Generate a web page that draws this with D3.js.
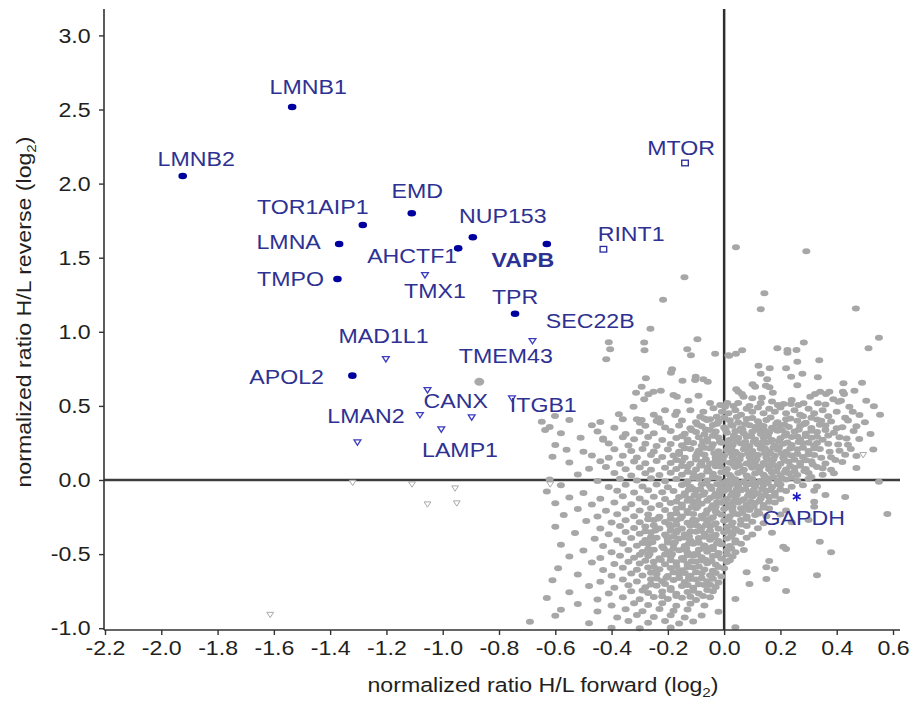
<!DOCTYPE html>
<html>
<head>
<meta charset="utf-8">
<script src="https://cdn.jsdelivr.net/npm/d3@7"></script>
<style>
body { margin: 0; background: #fff; }
text { font-family: "Liberation Sans", Arial, sans-serif; }
</style>
</head>
<body>
<svg id="chart" width="914" height="704"></svg>
<script>
// ticks
var xTickValues = [-2.2, -2.0, -1.8, -1.6, -1.4, -1.2, -1.0, -0.8, -0.6, -0.4, -0.2, 0.0, 0.2, 0.4, 0.6];
var yTickValues = [-1.0, -0.5, 0.0, 0.5, 1.0, 1.5, 2.0, 2.5, 3.0];

// highlighted proteins (forward, reverse log2 ratios)
var proteinNames  = ["LMNB1", "LMNB2", "TOR1AIP1", "EMD", "NUP153", "LMNA", "AHCTF1", "VAPB", "TMPO", "TMX1", "TPR", "SEC22B", "RINT1", "MTOR", "MAD1L1", "APOL2", "TMEM43", "CANX", "ITGB1", "LMAN2", "LAMP1", "", "", "GAPDH"];
var proteinFwd    = [-1.535, -1.924, -1.284, -1.110, -0.893, -1.368, -0.945, -0.630, -1.374, -1.063, -0.743, -0.681, -0.429, -0.139, -1.202, -1.321, -0.870, -1.054, -0.754, -1.081, -1.005, -0.897, -1.303, 0.258];
var proteinRev    = [2.517, 2.051, 1.721, 1.800, 1.638, 1.592, 1.563, 1.592, 1.356, 1.383, 1.122, 0.938, 1.557, 2.139, 0.816, 0.704, 0.663, 0.607, 0.551, 0.439, 0.342, 0.423, 0.254, -0.113];
var proteinMarker = ["dot", "dot", "dot", "dot", "dot", "dot", "dot", "dot", "dot", "tri", "dot", "tri", "square", "square", "tri", "dot", "grey", "tri", "tri", "tri", "tri", "tri", "tri", "star"];

// hollow grey triangles
var greyTriangles = [[-1.320, -0.018], [-1.109, -0.029], [-0.956, -0.056], [-1.054, -0.164], [-0.950, -0.157], [-0.618, -0.029], [-1.613, -0.909], [0.494, 0.169]];

// all other quantified proteins
var greyPoints = [
  [0.042,1.570],[0.292,1.543],[0.143,1.260],[0.130,1.152],[0.468,1.158],[-0.141,1.368],[-0.217,1.217],[-0.262,1.021],
  [-0.410,0.929],[-0.405,0.882],[-0.419,0.814],[-0.284,0.927],[-0.283,0.875],[-0.095,0.949],[-0.131,0.882],[-0.118,0.841],[-0.032,0.852],[0.015,0.841],[0.550,0.960],[0.513,0.889],[0.283,0.927],[0.189,0.889],[0.225,0.877],[0.225,0.859],[0.257,0.877],[0.018,0.839],[0.042,0.852],[0.064,0.875],[0.338,0.808],[0.260,0.798],
  [-0.185,0.747],[-0.189,0.724],[-0.278,0.686],[-0.148,0.670],[-0.101,0.697],[-0.103,0.675],[-0.074,0.679],[-0.058,0.663],[-0.293,0.630],[0.122,0.771],[0.162,0.754],[0.220,0.754],[0.130,0.717],[0.238,0.697],[0.278,0.717],[0.333,0.693],[0.153,0.679],[0.260,0.639],[0.101,0.646],[0.110,0.630],[0.148,0.636],[0.161,0.626],[0.043,0.612],[0.490,0.657],[0.424,0.652],[-0.225,0.603],[-0.251,0.596],[-0.313,0.589],[-0.269,0.578],
  [-0.648,0.393],[-0.601,0.432],[-0.636,0.337],[-0.374,0.443],[-0.322,0.495],[-0.284,0.545],[-0.180,0.574],[-0.168,0.562],[-0.091,0.569],[-0.127,0.535],[-0.168,0.461],[-0.174,0.439],[-0.233,0.416],[-0.227,0.387],[-0.299,0.387],[-0.293,0.405],[-0.074,0.461],[-0.085,0.427],[-0.061,0.405],[-0.038,0.484],[-0.014,0.506],[-0.008,0.461],[-0.026,0.427],[0.051,0.596],[0.063,0.580],[0.069,0.562],[0.173,0.589],[0.422,0.596],[0.426,0.580],[0.463,0.603],[0.505,0.535],[0.532,0.497],[0.554,0.441],[0.306,0.562],[0.323,0.580],[0.341,0.596],[0.362,0.580],[0.374,0.596],[0.388,0.545],[0.406,0.528],[0.415,0.535],[0.333,0.518],[0.282,0.518],[0.264,0.506],[0.237,0.513],[0.211,0.513],[0.191,0.506],[0.445,0.495],[0.457,0.461],[0.481,0.439],[0.100,0.551],[0.134,0.555],[0.011,0.520],[0.033,0.500],[0.003,0.495],
  [0.015,0.45],[0.04,0.47],[0.06,0.44],[0.08,0.48],[0.10,0.46],[0.12,0.49],[0.14,0.45],[0.16,0.48],[0.18,0.46],[0.20,0.49],[0.22,0.45],[0.25,0.47],[0.27,0.44],[0.30,0.48],[0.32,0.45],[0.35,0.47],[0.37,0.43],[0.40,0.46],[0.43,0.42],[0.05,0.52],[0.09,0.50],[0.13,0.52],[0.17,0.53],[0.24,0.54],[0.36,0.51],[-0.05,0.52],[-0.12,0.47],[-0.21,0.47],[-0.25,0.44],[-0.36,0.41],[-0.43,0.28],
  [-0.55,0.405],[-0.44,0.392],[-0.31,0.41],[-0.24,0.398],[-0.15,0.402],[-0.10,0.389],[-0.05,0.41],[-0.02,0.395],[0.02,0.404],[0.05,0.388],[0.08,0.412],[0.12,0.397],[0.15,0.405],[0.19,0.39],[0.22,0.41],[0.26,0.4],[0.29,0.387],[0.33,0.408],[0.38,0.395],[0.44,0.402],[0.50,0.39],
  [-0.62,0.358],[-0.47,0.37],[-0.39,0.352],[-0.28,0.366],[-0.21,0.355],[-0.16,0.368],[-0.12,0.35],[-0.08,0.362],[-0.04,0.371],[0.0,0.355],[0.03,0.366],[0.06,0.35],[0.09,0.369],[0.11,0.357],[0.14,0.364],[0.17,0.352],[0.20,0.37],[0.23,0.358],[0.27,0.365],[0.31,0.351],[0.36,0.368],[0.42,0.356],[0.47,0.362],
  [-0.58,0.316],[-0.45,0.328],[-0.35,0.31],[-0.30,0.325],[-0.25,0.315],[-0.19,0.33],[-0.14,0.312],[-0.10,0.324],[-0.07,0.309],[-0.03,0.327],[0.01,0.318],[0.04,0.331],[0.07,0.313],[0.10,0.326],[0.13,0.31],[0.16,0.322],[0.19,0.333],[0.22,0.315],[0.25,0.327],[0.29,0.312],[0.33,0.324],[0.39,0.318],[0.46,0.33],[0.52,0.31],
  [-0.51,0.285],[-0.43,0.272],[-0.36,0.288],[-0.32,0.275],[-0.27,0.29],[-0.22,0.27],[-0.17,0.284],[-0.13,0.273],[-0.09,0.289],[-0.06,0.276],[-0.02,0.286],[0.02,0.271],[0.05,0.283],[0.08,0.292],[0.11,0.274],[0.14,0.287],[0.17,0.27],[0.20,0.281],[0.24,0.29],[0.27,0.274],[0.31,0.285],[0.35,0.272],[0.41,0.288],[0.48,0.277],
  [-0.60,0.236],[-0.41,0.247],[-0.34,0.232],[-0.28,0.245],[-0.24,0.23],[-0.19,0.243],[-0.15,0.235],[-0.11,0.249],[-0.08,0.231],[-0.04,0.242],[-0.01,0.252],[0.03,0.234],[0.06,0.246],[0.09,0.23],[0.12,0.241],[0.15,0.251],[0.18,0.233],[0.21,0.245],[0.24,0.236],[0.28,0.248],[0.32,0.231],[0.37,0.244],[0.44,0.238],
  [-0.56,0.204],[-0.50,0.19],[-0.39,0.207],[-0.33,0.195],[-0.29,0.21],[-0.25,0.193],[-0.20,0.205],[-0.16,0.19],[-0.12,0.209],[-0.09,0.197],[-0.05,0.212],[-0.02,0.194],[0.01,0.203],[0.04,0.19],[0.07,0.208],[0.10,0.196],[0.13,0.211],[0.16,0.193],[0.19,0.204],[0.22,0.191],[0.26,0.207],[0.30,0.195],[0.34,0.21],[0.41,0.198],[0.53,0.205],
  [-0.61,0.157],[-0.47,0.165],[-0.41,0.15],[-0.36,0.163],[-0.31,0.152],[-0.26,0.168],[-0.22,0.155],[-0.18,0.166],[-0.14,0.15],[-0.10,0.161],[-0.07,0.17],[-0.03,0.153],[0.0,0.164],[0.03,0.151],[0.06,0.167],[0.09,0.156],[0.12,0.169],[0.15,0.152],[0.18,0.163],[0.21,0.15],[0.24,0.166],[0.28,0.155],[0.32,0.168],[0.38,0.153],[0.47,0.162],
  [-0.55,0.118],[-0.44,0.126],[-0.37,0.11],[-0.32,0.124],[-0.28,0.113],[-0.24,0.128],[-0.19,0.115],[-0.15,0.127],[-0.12,0.109],[-0.08,0.122],[-0.05,0.112],[-0.01,0.129],[0.02,0.117],[0.05,0.13],[0.08,0.111],[0.11,0.125],[0.14,0.114],[0.17,0.128],[0.20,0.11],[0.23,0.123],[0.27,0.116],[0.31,0.127],[0.36,0.112],[0.42,0.121],
  [-0.48,0.076],[-0.42,0.088],[-0.35,0.072],[-0.30,0.085],[-0.26,0.07],[-0.21,0.083],[-0.17,0.074],[-0.13,0.089],[-0.10,0.071],[-0.06,0.084],[-0.03,0.092],[0.01,0.075],[0.04,0.087],[0.07,0.07],[0.10,0.082],[0.13,0.091],[0.16,0.073],[0.19,0.086],[0.22,0.071],[0.25,0.083],[0.29,0.074],[0.33,0.088],[0.38,0.07],[0.47,0.081],
  [-0.52,0.037],[-0.39,0.048],[-0.33,0.031],[-0.28,0.045],[-0.23,0.033],[-0.19,0.049],[-0.15,0.035],[-0.11,0.046],[-0.08,0.03],[-0.04,0.043],[-0.01,0.052],[0.02,0.034],[0.05,0.047],[0.08,0.031],[0.11,0.044],[0.14,0.036],[0.17,0.05],[0.20,0.032],[0.23,0.045],[0.26,0.034],[0.30,0.048],[0.35,0.036],[0.39,0.046],
  [-0.62,0.004],[-0.45,-0.006],[-0.37,0.008],[-0.31,-0.004],[-0.26,0.011],[-0.21,-0.008],[-0.17,0.006],[-0.13,-0.01],[-0.09,0.009],[-0.06,-0.003],[-0.02,0.012],[0.01,-0.007],[0.04,0.005],[0.07,-0.011],[0.10,0.007],[0.13,-0.005],[0.16,0.01],[0.19,-0.009],[0.22,0.004],[0.26,-0.006],[0.30,0.008],[0.55,-0.011],
  [-0.58,-0.036],[-0.41,-0.047],[-0.35,-0.032],[-0.29,-0.044],[-0.24,-0.03],[-0.20,-0.049],[-0.15,-0.034],[-0.12,-0.046],[-0.08,-0.031],[-0.05,-0.043],[-0.01,-0.051],[0.02,-0.035],[0.05,-0.047],[0.08,-0.03],[0.11,-0.042],[0.14,-0.033],[0.17,-0.048],[0.20,-0.031],[0.24,-0.045],[0.28,-0.036],[0.33,-0.044],
  [-0.63,-0.077],[-0.50,-0.088],[-0.38,-0.072],[-0.32,-0.085],[-0.27,-0.07],[-0.22,-0.083],[-0.18,-0.074],[-0.14,-0.089],[-0.10,-0.071],[-0.07,-0.084],[-0.03,-0.092],[0.0,-0.075],[0.03,-0.087],[0.06,-0.07],[0.09,-0.082],[0.12,-0.091],[0.15,-0.073],[0.18,-0.086],[0.22,-0.075],[0.32,-0.072],[0.36,-0.101],
  [-0.55,-0.118],[-0.44,-0.127],[-0.36,-0.11],[-0.30,-0.124],[-0.25,-0.113],[-0.21,-0.128],[-0.16,-0.115],[-0.12,-0.127],[-0.09,-0.109],[-0.05,-0.122],[-0.02,-0.112],[0.01,-0.129],[0.04,-0.117],[0.07,-0.13],[0.10,-0.111],[0.13,-0.125],[0.16,-0.114],[0.20,-0.128],[0.43,-0.115],
  [-0.60,-0.157],[-0.47,-0.166],[-0.39,-0.151],[-0.33,-0.163],[-0.28,-0.152],[-0.23,-0.168],[-0.19,-0.155],[-0.15,-0.166],[-0.11,-0.15],[-0.08,-0.161],[-0.04,-0.17],[-0.01,-0.153],[0.02,-0.164],[0.05,-0.151],[0.08,-0.167],[0.11,-0.156],[0.14,-0.169],[0.18,-0.152],[0.32,-0.146],
  [-0.52,-0.196],[-0.42,-0.207],[-0.35,-0.192],[-0.30,-0.205],[-0.26,-0.19],[-0.21,-0.203],[-0.17,-0.194],[-0.13,-0.209],[-0.10,-0.191],[-0.06,-0.204],[-0.03,-0.212],[0.0,-0.195],[0.03,-0.207],[0.06,-0.19],[0.09,-0.202],[0.12,-0.211],[0.16,-0.193],[0.22,-0.206],[0.58,-0.229],[0.32,-0.18],
  [-0.57,-0.237],[-0.45,-0.246],[-0.38,-0.231],[-0.32,-0.244],[-0.27,-0.232],[-0.23,-0.248],[-0.19,-0.235],[-0.15,-0.246],[-0.11,-0.23],[-0.08,-0.242],[-0.04,-0.251],[-0.01,-0.234],[0.02,-0.245],[0.05,-0.231],[0.08,-0.247],[0.11,-0.236],[0.15,-0.244],[0.20,-0.232],
  [-0.49,-0.276],[-0.40,-0.287],[-0.35,-0.272],[-0.30,-0.285],[-0.25,-0.27],[-0.21,-0.283],[-0.17,-0.274],[-0.13,-0.289],[-0.10,-0.271],[-0.06,-0.284],[-0.03,-0.292],[0.0,-0.275],[0.03,-0.287],[0.06,-0.27],[0.10,-0.282],[0.14,-0.291],[0.30,-0.27],[0.24,-0.285],
  [-0.60,-0.316],[-0.44,-0.327],[-0.37,-0.311],[-0.32,-0.324],[-0.28,-0.313],[-0.23,-0.328],[-0.19,-0.315],[-0.15,-0.327],[-0.12,-0.309],[-0.08,-0.322],[-0.05,-0.312],[-0.02,-0.329],[0.01,-0.317],[0.04,-0.33],[0.08,-0.311],[0.12,-0.325],
  [-0.53,-0.357],[-0.41,-0.366],[-0.35,-0.351],[-0.30,-0.363],[-0.26,-0.352],[-0.21,-0.368],[-0.17,-0.355],[-0.14,-0.366],[-0.10,-0.35],[-0.07,-0.361],[-0.03,-0.37],[0.0,-0.353],[0.03,-0.364],[0.06,-0.351],[0.10,-0.367],[0.17,-0.356],
  [-0.46,-0.396],[-0.38,-0.407],[-0.33,-0.392],[-0.28,-0.405],[-0.24,-0.39],[-0.20,-0.403],[-0.16,-0.394],[-0.12,-0.409],[-0.09,-0.391],[-0.05,-0.404],[-0.02,-0.412],[0.01,-0.395],[0.04,-0.407],[0.08,-0.39],[0.21,-0.45],[0.34,-0.416],
  [-0.58,-0.437],[-0.43,-0.446],[-0.36,-0.431],[-0.31,-0.444],[-0.27,-0.432],[-0.22,-0.448],[-0.18,-0.435],[-0.14,-0.446],[-0.11,-0.43],[-0.07,-0.442],[-0.04,-0.451],[-0.01,-0.434],[0.02,-0.445],[0.06,-0.431],[0.22,-0.466],
  [-0.50,-0.476],[-0.40,-0.487],[-0.34,-0.472],[-0.29,-0.485],[-0.25,-0.47],[-0.20,-0.483],[-0.16,-0.474],[-0.13,-0.489],[-0.09,-0.471],[-0.06,-0.484],[-0.02,-0.492],[0.01,-0.475],[0.04,-0.487],[0.07,-0.472],[0.38,-0.488],
  [-0.55,-0.516],[-0.44,-0.527],[-0.37,-0.511],[-0.32,-0.524],[-0.27,-0.513],[-0.23,-0.528],[-0.19,-0.515],[-0.15,-0.527],[-0.11,-0.509],[-0.08,-0.522],[-0.04,-0.512],[-0.01,-0.529],[0.03,-0.517],
  [-0.47,-0.557],[-0.39,-0.566],[-0.34,-0.551],[-0.30,-0.563],[-0.25,-0.552],[-0.21,-0.568],[-0.17,-0.555],[-0.13,-0.566],[-0.10,-0.55],[-0.06,-0.561],[-0.03,-0.57],[0.01,-0.553],[0.16,-0.547],
  [-0.59,-0.596],[-0.43,-0.607],[-0.36,-0.592],[-0.31,-0.605],[-0.27,-0.59],[-0.23,-0.603],[-0.19,-0.594],[-0.15,-0.609],[-0.11,-0.591],[-0.07,-0.604],[-0.04,-0.612],[0.0,-0.595],[0.08,-0.623],[0.18,-0.601],[0.15,-0.589],
  [-0.52,-0.637],[-0.40,-0.646],[-0.33,-0.631],[-0.29,-0.644],[-0.24,-0.632],[-0.20,-0.648],[-0.16,-0.635],[-0.12,-0.646],[-0.08,-0.63],[-0.05,-0.642],[-0.01,-0.651],[0.15,-0.668],[0.33,-0.643],
  [-0.61,-0.676],[-0.44,-0.687],[-0.36,-0.672],[-0.31,-0.685],[-0.26,-0.67],[-0.22,-0.683],[-0.18,-0.674],[-0.14,-0.689],[-0.10,-0.671],[-0.06,-0.684],[-0.02,-0.692],[0.09,-0.702],
  [-0.48,-0.716],[-0.39,-0.727],[-0.34,-0.711],[-0.28,-0.724],[-0.24,-0.713],[-0.19,-0.728],[-0.15,-0.715],[-0.11,-0.727],[-0.07,-0.709],[-0.03,-0.722],
  [-0.55,-0.757],[-0.41,-0.766],[-0.33,-0.751],[-0.27,-0.763],[-0.22,-0.752],[-0.17,-0.768],[-0.13,-0.755],[-0.09,-0.766],[-0.04,-0.75],[0.22,-0.749],
  [-0.63,-0.796],[-0.45,-0.807],[-0.36,-0.792],[-0.30,-0.805],[-0.25,-0.79],[-0.20,-0.803],[-0.15,-0.794],[-0.10,-0.809],[-0.05,-0.791],[0.04,-0.803],
  [-0.52,-0.837],[-0.40,-0.846],[-0.32,-0.831],[-0.27,-0.844],[-0.22,-0.832],[-0.17,-0.848],[-0.12,-0.835],[-0.07,-0.846],
  [-0.58,-0.876],[-0.45,-0.887],[-0.35,-0.872],[-0.29,-0.885],[-0.23,-0.87],[-0.18,-0.883],[-0.13,-0.874],[-0.02,-0.889],
  [-0.60,-0.916],[-0.38,-0.927],[-0.31,-0.911],[-0.25,-0.924],[-0.19,-0.913],[-0.14,-0.928],[-0.08,-0.915],
  [-0.69,-0.957],[-0.48,-0.966],[-0.34,-0.951],[-0.27,-0.963],[-0.21,-0.952],[-0.16,-0.968],[-0.11,-0.955],[0.04,-0.994],
  [-0.40,-0.997],[-0.30,-1.0],[-0.19,-0.995],
  [-0.065,0.34],[-0.035,0.30],[0.005,0.34],[0.035,0.30],[0.065,0.34],[0.095,0.30],[0.125,0.34],[0.155,0.30],[0.185,0.34],
  [-0.075,0.26],[-0.045,0.22],[-0.015,0.26],[0.015,0.22],[0.045,0.26],[0.075,0.22],[0.105,0.26],[0.135,0.22],[0.165,0.26],[0.195,0.22],
  [-0.095,0.18],[-0.065,0.14],[-0.035,0.18],[-0.005,0.14],[0.025,0.18],[0.055,0.14],[0.085,0.18],[0.115,0.14],[0.145,0.18],[0.175,0.14],[0.205,0.18],
  [-0.085,0.10],[-0.055,0.06],[-0.025,0.10],[0.005,0.06],[0.035,0.10],[0.065,0.06],[0.095,0.10],[0.125,0.06],[0.155,0.10],[0.185,0.06],
  [-0.095,0.02],[-0.065,-0.02],[-0.035,0.02],[-0.005,-0.02],[0.025,0.02],[0.055,-0.02],[0.085,0.02],[0.115,-0.02],[0.145,0.02],
  [-0.11,-0.06],[-0.075,-0.10],[-0.045,-0.06],[-0.015,-0.10],[0.015,-0.06],[0.045,-0.10],[0.075,-0.06],[0.105,-0.10],
  [-0.13,-0.14],[-0.095,-0.18],[-0.06,-0.14],[-0.03,-0.18],[0.0,-0.14],[0.03,-0.18],[0.06,-0.14],
  [-0.235,-0.26],[-0.195,-0.30],[-0.155,-0.26],[-0.115,-0.30],[-0.075,-0.26],[-0.035,-0.30],
  [-0.245,-0.34],[-0.205,-0.38],[-0.165,-0.34],[-0.125,-0.38],[-0.085,-0.34],[-0.045,-0.38],
  [-0.255,-0.42],[-0.215,-0.46],[-0.175,-0.42],[-0.135,-0.46],[-0.095,-0.42],[-0.055,-0.46],
  [-0.265,-0.50],[-0.225,-0.54],[-0.185,-0.50],[-0.145,-0.54],[-0.105,-0.50],[-0.065,-0.54],
  [-0.245,-0.62],[-0.205,-0.66],[-0.165,-0.62],[-0.125,-0.66],
  [-0.07,0.415],[0.0,0.42],[0.045,0.425],[0.10,0.418],[0.165,0.422],[0.235,0.415],[0.31,0.42],
  [-0.095,0.375],[-0.025,0.38],[0.025,0.372],[0.075,0.378],[0.125,0.374],[0.185,0.38],[0.215,0.373],[0.285,0.378],[0.34,0.372],
  [-0.115,0.335],[-0.05,0.338],[0.055,0.333],[0.115,0.339],[0.145,0.332],[0.205,0.336],[0.265,0.339],[0.31,0.333],[0.36,0.337],
  [-0.15,0.295],[-0.04,0.298],[0.035,0.292],[0.095,0.297],[0.155,0.293],[0.215,0.299],[0.26,0.293],[0.29,0.297],[0.33,0.291],
  [-0.13,0.255],[-0.06,0.258],[0.015,0.252],[0.075,0.257],[0.135,0.253],[0.195,0.259],[0.225,0.253],[0.265,0.257],[0.30,0.252],
  [-0.14,0.215],[-0.07,0.218],[0.025,0.212],[0.085,0.217],[0.145,0.213],[0.175,0.219],[0.235,0.212],[0.28,0.217],[0.32,0.214],
  [-0.16,0.175],[-0.085,0.178],[-0.015,0.172],[0.045,0.177],[0.105,0.173],[0.165,0.179],[0.225,0.172],[0.26,0.176],[0.30,0.174],
  [-0.17,0.135],[-0.10,0.138],[-0.03,0.132],[0.035,0.137],[0.095,0.133],[0.155,0.139],[0.215,0.132],[0.25,0.136],[0.29,0.134],
  [-0.15,0.095],[-0.08,0.098],[-0.015,0.092],[0.055,0.097],[0.115,0.093],[0.175,0.099],[0.235,0.092],[0.27,0.096],
  [-0.13,0.055],[-0.06,0.058],[0.005,0.052],[0.065,0.057],[0.125,0.053],[0.185,0.059],[0.215,0.052],[0.25,0.056],
  [-0.11,0.015],[-0.04,0.018],[0.025,0.012],[0.085,0.017],[0.145,0.013],[0.175,0.019],[0.205,0.012],[0.24,0.016],
  [-0.135,-0.025],[-0.065,-0.022],[-0.025,-0.028],[0.035,-0.023],[0.095,-0.027],[0.155,-0.021],[0.19,-0.028],
  [-0.125,-0.065],[-0.085,-0.062],[-0.015,-0.068],[0.045,-0.063],[0.105,-0.067],[0.135,-0.061],[0.165,-0.068],[0.20,-0.064],
  [-0.14,-0.105],[-0.105,-0.102],[-0.035,-0.108],[0.025,-0.103],[0.085,-0.107],[0.145,-0.101],[0.18,-0.106],
  [-0.17,-0.145],[-0.095,-0.142],[-0.025,-0.148],[0.035,-0.143],[0.095,-0.147],[0.125,-0.141],[0.16,-0.146],
  [-0.15,-0.185],[-0.115,-0.182],[-0.045,-0.188],[0.015,-0.183],[0.075,-0.187],[0.105,-0.181],[0.14,-0.186],
  [-0.17,-0.225],[-0.13,-0.222],[-0.065,-0.228],[-0.025,-0.223],[0.035,-0.227],[0.065,-0.221],[0.125,-0.226],
  [-0.27,-0.265],[-0.19,-0.262],[-0.11,-0.268],[-0.05,-0.263],[0.015,-0.267],[0.08,-0.261],
  [-0.25,-0.305],[-0.17,-0.302],[-0.095,-0.308],[-0.065,-0.303],[0.025,-0.307],[0.06,-0.301],
  [-0.28,-0.345],[-0.19,-0.342],[-0.12,-0.348],[-0.05,-0.343],[0.015,-0.347],[0.045,-0.341],
  [-0.26,-0.385],[-0.18,-0.382],[-0.14,-0.388],[-0.07,-0.383],[-0.035,-0.387],[0.025,-0.381],
  [-0.29,-0.425],[-0.20,-0.422],[-0.125,-0.428],[-0.09,-0.423],[-0.025,-0.427],[0.04,-0.421],
  [-0.27,-0.465],[-0.18,-0.462],[-0.145,-0.468],[-0.075,-0.463],[-0.04,-0.467],[0.025,-0.461],
  [-0.30,-0.505],[-0.21,-0.502],[-0.13,-0.508],[-0.095,-0.503],[-0.025,-0.507],[0.01,-0.501],
  [-0.28,-0.545],[-0.19,-0.542],[-0.115,-0.548],[-0.08,-0.543],[-0.045,-0.547],[0.02,-0.541],
  [-0.25,-0.585],[-0.17,-0.582],[-0.13,-0.588],[-0.09,-0.583],[-0.02,-0.587],
  [-0.26,-0.625],[-0.18,-0.622],[-0.14,-0.628],[-0.10,-0.623],[-0.03,-0.627],
  [-0.24,-0.665],[-0.16,-0.662],[-0.12,-0.668],[-0.08,-0.663],[-0.04,-0.667],
  [-0.26,-0.705],[-0.21,-0.702],[-0.13,-0.708],[-0.09,-0.703],[-0.05,-0.707],
  [-0.29,-0.745],[-0.19,-0.742],[-0.11,-0.748],[-0.06,-0.743],
  [-0.22,-0.785],[-0.17,-0.782],[-0.12,-0.788],[-0.075,-0.783],
  [0.285,0.06],[0.315,0.105],[0.345,0.15],[0.375,0.19],[0.405,0.24],[0.435,0.28],[0.31,0.02],[0.35,0.08],[0.395,0.135],[0.43,0.17],[0.45,0.21],[0.33,0.25],[0.37,0.30],[0.40,0.35],[0.345,0.40],[0.28,0.43]
];

// label placement, pixels from the marker (label centre, baseline)
var labelOffset = {
  LMNB1: [16, -13], LMNB2: [13.5, -10.5], TOR1AIP1: [-50, -11], EMD: [5.5, -15],
  NUP153: [30, -14], LMNA: [-50.5, 5.3], AHCTF1: [-46, 14.4], VAPB: [-24, 23.3],
  TMPO: [-47, 7], TMX1: [10, 22.7], TPR: [0, -9.4], SEC22B: [57.7, -13.3],
  RINT1: [27.7, -8.3], MTOR: [-4, -8], MAD1L1: [-2.4, -15.7], APOL2: [-65.7, 8.6],
  TMEM43: [26.5, -18.4], CANX: [28.2, 18.3], ITGB1: [31.3, 14], LMAN2: [-54, 8.3],
  LAMP1: [18.7, 27.4], GAPDH: [7, 28.3]
};

var textStretch = 1.13;
var labelColor = "#2e3192";

var svg = d3.select("#chart");

var x = d3.scaleLinear().domain([-2.2, 0.6]).range([105, 893]);
var y = d3.scaleLinear().domain([-1, 3]).range([628.2, 35.4]);

var plotLeft = 104, plotRight = 900, plotTop = 9, plotBottom = 630;

// zero lines
svg.append("line")
    .attr("x1", plotLeft).attr("x2", plotRight)
    .attr("y1", y(0)).attr("y2", y(0))
    .attr("stroke", "#3d3d3d").attr("stroke-width", 2.5);
svg.append("line")
    .attr("x1", x(0)).attr("x2", x(0))
    .attr("y1", plotTop).attr("y2", plotBottom)
    .attr("stroke", "#2f2f2f").attr("stroke-width", 2.5);

// background proteins
svg.append("g").selectAll("ellipse")
    .data(greyPoints)
    .enter().append("ellipse")
    .attr("cx", function(d) { return x(d[0]); })
    .attr("cy", function(d) { return y(d[1]); })
    .attr("rx", 4.0).attr("ry", 3.0)
    .attr("fill", "#a7a7a7");

var triPath = "M-3.4,-2.4L3.4,-2.4L0,2.9Z";

svg.append("g").selectAll("path")
    .data(greyTriangles)
    .enter().append("path")
    .attr("d", triPath)
    .attr("transform", function(d) { return "translate(" + x(d[0]) + "," + y(d[1]) + ")"; })
    .attr("fill", "#fff").attr("stroke", "#a9a9a9").attr("stroke-width", 1);

// highlighted proteins
var proteins = proteinNames.map(function(n, i) {
    return { name: n, fwd: proteinFwd[i], rev: proteinRev[i], marker: proteinMarker[i] };
});

var marks = svg.append("g").selectAll("g")
    .data(proteins)
    .enter().append("g")
    .attr("transform", function(d) { return "translate(" + x(d.fwd) + "," + y(d.rev) + ")"; });

marks.each(function(d) {
    var g = d3.select(this);
    if (d.marker === "dot") {
        g.append("ellipse").attr("rx", 4.3).attr("ry", 3.3).attr("fill", "#00009e");
    } else if (d.marker === "grey") {
        g.append("ellipse").attr("rx", 5).attr("ry", 4).attr("fill", "#a9a9a9");
    } else if (d.marker === "tri") {
        g.append("path").attr("d", triPath)
            .attr("fill", "#fff").attr("stroke", "#3c3cc0").attr("stroke-width", 1.3);
    } else if (d.marker === "square") {
        g.append("rect").attr("x", -3.3).attr("y", -2.8).attr("width", 6.6).attr("height", 5.6)
            .attr("fill", "#fff").attr("stroke", "#28289a").attr("stroke-width", 1.3);
    } else if (d.marker === "star") {
        [0, 60, 120].forEach(function(a) {
            g.append("line").attr("x1", 0).attr("y1", -4.5).attr("x2", 0).attr("y2", 4.5)
                .attr("transform", "rotate(" + a + ")")
                .attr("stroke", "#1a1ac8").attr("stroke-width", 1.6);
        });
    }
});

svg.append("g").selectAll("text")
    .data(proteins.filter(function(d) { return d.name !== ""; }))
    .enter().append("text")
    .attr("transform", function(d) {
        var o = labelOffset[d.name];
        return "translate(" + (x(d.fwd) + o[0]) + "," + (y(d.rev) + o[1]) + ") scale(" + textStretch + ",1)";
    })
    .attr("text-anchor", "middle")
    .attr("font-size", "20.5px")
    .attr("font-weight", function(d) { return d.name === "VAPB" ? "bold" : "normal"; })
    .attr("fill", labelColor)
    .text(function(d) { return d.name; });

// axes
var fmt = function(d) { return d.toFixed(1); };

var gx = svg.append("g")
    .attr("transform", "translate(0," + plotBottom + ")")
    .call(d3.axisBottom(x).tickValues(xTickValues).tickFormat(fmt).tickSize(5));
gx.select(".domain").remove();
gx.selectAll(".tick line").attr("stroke", "#333").attr("stroke-width", 1.4);
gx.selectAll(".tick text")
    .attr("y", 25).attr("dy", 0)
    .attr("transform", "scale(" + textStretch + ",1)")
    .attr("font-size", "20.5px").attr("fill", "#231f20")
    .style("font-family", '"Liberation Sans", Arial, sans-serif');

var gy = svg.append("g")
    .attr("transform", "translate(" + plotLeft + ",0)")
    .call(d3.axisLeft(y).tickValues(yTickValues).tickFormat(fmt).tickSize(5));
gy.select(".domain").remove();
gy.selectAll(".tick line").attr("stroke", "#333").attr("stroke-width", 1.4);
gy.selectAll(".tick text")
    .attr("x", -11.8).attr("dy", "0.33em")
    .attr("transform", "scale(" + textStretch + ",1)")
    .attr("font-size", "20.5px").attr("fill", "#231f20")
    .style("font-family", '"Liberation Sans", Arial, sans-serif');

svg.append("line")
    .attr("x1", plotLeft).attr("x2", plotLeft)
    .attr("y1", plotTop).attr("y2", plotBottom)
    .attr("stroke", "#333").attr("stroke-width", 1.6);
svg.append("line")
    .attr("x1", plotLeft).attr("x2", plotRight)
    .attr("y1", plotBottom).attr("y2", plotBottom)
    .attr("stroke", "#333").attr("stroke-width", 1.6);

// axis titles
var xt = svg.append("text")
    .attr("transform", "translate(543,692) scale(" + textStretch + ",1)")
    .attr("text-anchor", "middle").attr("font-size", "20.5px").attr("fill", "#231f20");
xt.append("tspan").text("normalized ratio H/L forward (log");
xt.append("tspan").attr("font-size", "13.5px").attr("dy", 5).text("2");
xt.append("tspan").attr("dy", -5).text(")");

var yt = svg.append("text")
    .attr("transform", "translate(31,312) rotate(-90) scale(" + textStretch + ",1)")
    .attr("text-anchor", "middle").attr("font-size", "20.5px").attr("fill", "#231f20");
yt.append("tspan").text("normalized ratio H/L reverse (log");
yt.append("tspan").attr("font-size", "13.5px").attr("dy", 5).text("2");
yt.append("tspan").attr("dy", -5).text(")");
</script>
</body>
</html>
